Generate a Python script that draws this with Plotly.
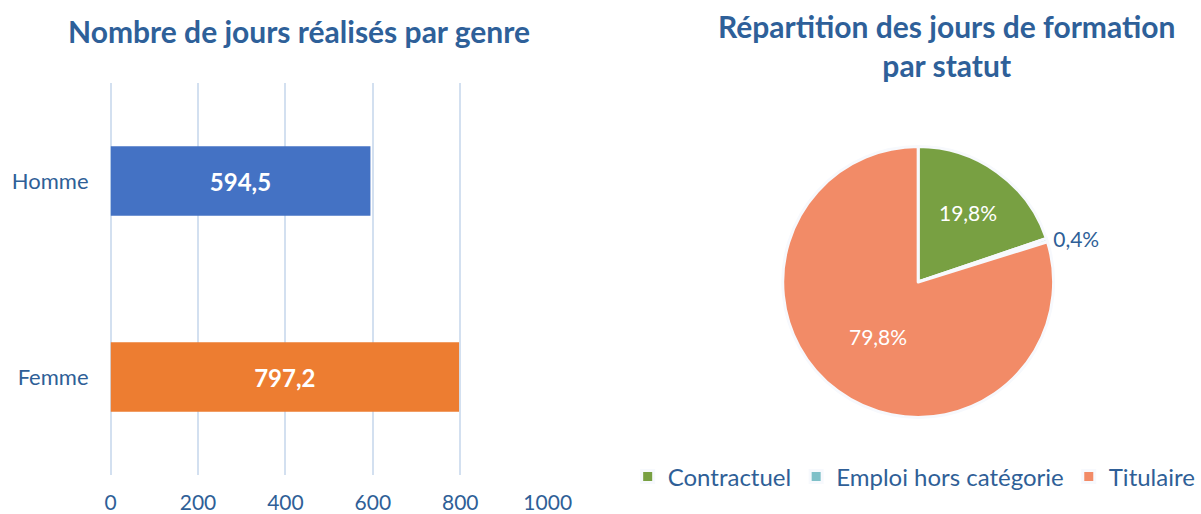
import plotly.graph_objects as go

# Data
genres = ["Homme", "Femme"]
jours = [594.5, 797.2]
bar_colors = ["#4472C4", "#ED7D31"]

statuts = ["Contractuel", "Emploi hors catégorie", "Titulaire"]
parts = [19.8, 0.4, 79.8]
pie_colors = ["#78A042", "#7FC0C8", "#F28B67"]

x_ticks = [0, 200, 400, 600, 800, 1000]

FONT = "Lato"
TXT = "#2F5F97"
W, H = 1201, 514

fig = go.Figure()

fig.add_trace(go.Bar(
    y=genres, x=jours, orientation="h",
    marker=dict(color=bar_colors, line=dict(width=0)),
    texttemplate="<b>%{x:.1f}</b>", textposition="inside",
    insidetextanchor="middle",
    textfont=dict(color="white", size=24, family=FONT),
    xaxis="x", yaxis="y", showlegend=False, hoverinfo="skip",
))

fig.add_trace(go.Pie(
    labels=statuts, values=parts, sort=False, direction="clockwise",
    rotation=0, automargin=True,
    marker=dict(colors=pie_colors, line=dict(color="#F7F9FD", width=3)),
    texttemplate="%{percent:.1%}",
    textposition=["inside", "outside", "inside"],
    insidetextorientation="horizontal",
    textfont=dict(color=["white", TXT, "white"], size=21, family=FONT),
    domain=dict(x=[786 / W, 1058 / W], y=[1 - 418 / H, 1 - 146 / H]),
    hoverinfo="skip",
))

fig.update_layout(
    width=W, height=H,
    margin=dict(l=0, r=0, t=0, b=0),
    paper_bgcolor="white", plot_bgcolor="white",
    separators=", ",
    font=dict(family=FONT, color=TXT),
    bargap=0.645,
    xaxis=dict(
        domain=[111 / W, 550 / W], range=[0, 1000],
        tickvals=x_ticks, ticktext=[str(v) for v in x_ticks],
        showgrid=True, gridcolor="#D3E0F0", gridwidth=2,
        zeroline=True, zerolinecolor="#D3E0F0", zerolinewidth=2,
        showline=False, ticks="", tickfont=dict(size=21, color=TXT),
        ticklabelstandoff=13, automargin=False, fixedrange=True,
    ),
    yaxis=dict(
        domain=[1 - 475 / H, 1 - 83 / H],
        autorange="reversed", showgrid=False, zeroline=False,
        showline=False, ticks="", tickfont=dict(size=22, color=TXT),
        ticklabelstandoff=21, automargin=False, fixedrange=True,
    ),
    legend=dict(
        orientation="h", x=918 / W, xanchor="center",
        y=1 - 477 / H, yanchor="middle",
        font=dict(size=24, color=TXT), itemwidth=30,
        traceorder="normal",
    ),
    annotations=[
        dict(text="<b>Nombre de jours réalisés par genre</b>",
             x=300 / W, y=1 - 31 / H, xref="paper", yref="paper",
             xanchor="center", yanchor="middle", showarrow=False,
             font=dict(size=30, color="#2E6099", family=FONT)),
        dict(text="<b>Répartition des jours de formation<br>par statut</b>",
             x=950 / W, y=1 - 45 / H, xref="paper", yref="paper",
             xanchor="center", yanchor="middle", showarrow=False,
             font=dict(size=30, color="#2E6099", family=FONT)),
    ],
)

fig.write_html(
    "out.html",
    config={"displayModeBar": False},
    post_script="document.body.style.margin='0';document.body.style.overflow='hidden';",
)
